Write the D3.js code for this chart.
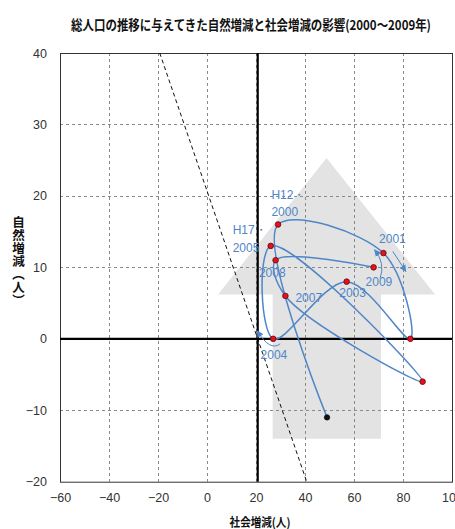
<!DOCTYPE html>
<html>
<head>
<meta charset="utf-8">
<script src="https://cdn.jsdelivr.net/npm/d3@7"></script>
<style>
  html, body { margin: 0; padding: 0; background: #fff; }
  svg { display: block; }
</style>
</head>
<body>
<script>
// Years of the trajectory (1999 is the starting point, drawn in black)
const years = ['1999', '2000', '2001', '2002', '2003', '2004', '2005', '2006', '2007', '2008', '2009'];
// 社会増減 (social change, persons) per year
const socialChange = [49, 29, 72, 83, 57, 27, 26, 88, 32, 28, 68];
// 自然増減 (natural change, persons) per year
const naturalChange = [-11, 16, 12, 0, 8, 0, 13, -6, 6, 11, 10];

const xTicks = [-60, -40, -20, 0, 20, 40, 60, 80, 100];
const yTicks = [-20, -10, 0, 10, 20, 30, 40];
const xGrid = [-40, -20, 0, 20, 40, 60, 80];
const yGrid = [-10, 10, 20, 30];

// The vertical axis crosses the horizontal one at this social-change value;
// the dashed reference line is socialChange + naturalChange = axisCross
const axisCross = 20.7;

// Year labels: text lines and their offsets from the year's point
const labelLines = [
  { year: '2000', lines: ['H12・', '2000'] },
  { year: '2001', lines: ['2001'] },
  { year: '2003', lines: ['2003'] },
  { year: '2004', lines: ['2004'] },
  { year: '2005', lines: ['H17・', '2005'] },
  { year: '2007', lines: ['2007'] },
  { year: '2008', lines: ['2008'] },
  { year: '2009', lines: ['2009'] }
];
const labelOffsets = {
  '2000': [-6.6, -12.3],
  '2001': [-4.3, -14],
  '2003': [-7.4, 11],
  '2004': [-12.6, 16],
  '2005': [-38, 1.7],
  '2007': [10, 2],
  '2008': [-16.7, 12.7],
  '2009': [-8, 15]
};
const lineGap = 17.5;

// Decorative upward arrow in the background (data units)
const bgArrow = { shaftLeft: 26.8, shaftRight: 71.0, bottom: -14, headLeft: 4.5, headRight: 93.1, headBase: 6.2, tipX: 48.8, tipY: 25.3 };

const W = 455, H = 529;
const plot = { left: 60, right: 452, top: 53, bottom: 481.7 };

const x = d3.scaleLinear().domain([-60, 100]).range([plot.left, plot.right]);
const y = d3.scaleLinear().domain([-20, 40]).range([plot.bottom, plot.top]);

const svg = d3.select('body').append('svg').attr('width', W).attr('height', H);

const numFont = '"Liberation Sans Narrow", "Liberation Sans", Arial, sans-serif';
const cjkFont = '"Noto Sans CJK JP", "Noto Sans", sans-serif';
const blue = '#4f86c8';

const defs = svg.append('defs');
defs.append('marker')
  .attr('id', 'head')
  .attr('viewBox', '0 0 10 10')
  .attr('refX', 9).attr('refY', 5)
  .attr('markerWidth', 7).attr('markerHeight', 7)
  .attr('markerUnits', 'userSpaceOnUse')
  .attr('orient', 'auto')
  .append('path').attr('d', 'M0,0 L10,5 L0,10 Z').attr('fill', blue);

// Title (horizontally condensed bold text)
svg.append('text')
  .attr('transform', 'translate(251,24.5) scale(0.85,1)')
  .attr('text-anchor', 'middle')
  .attr('dominant-baseline', 'central')
  .attr('font-family', cjkFont)
  .attr('font-weight', 'bold')
  .attr('font-size', 13.5)
  .attr('fill', '#111')
  .text('総人口の推移に与えてきた自然増減と社会増減の影響(2000～2009年)');

// Background arrow
const a = bgArrow;
const arrowPts = [
  [a.shaftLeft, a.bottom], [a.shaftLeft, a.headBase], [a.headLeft, a.headBase],
  [a.tipX, a.tipY], [a.headRight, a.headBase], [a.shaftRight, a.headBase], [a.shaftRight, a.bottom]
];
svg.append('polygon')
  .attr('points', arrowPts.map(p => [x(p[0]), y(p[1])].join(',')).join(' '))
  .attr('fill', '#e3e3e3');

// Dashed grid
const grid = svg.append('g').attr('stroke', '#8a8a8a').attr('stroke-width', 1).attr('stroke-dasharray', '3,3');
grid.selectAll('line.v').data(xGrid).join('line')
  .attr('x1', d => Math.round(x(d)) + 0.5).attr('x2', d => Math.round(x(d)) + 0.5)
  .attr('y1', plot.top).attr('y2', plot.bottom);
grid.selectAll('line.h').data(yGrid).join('line')
  .attr('y1', d => Math.round(y(d)) + 0.5).attr('y2', d => Math.round(y(d)) + 0.5)
  .attr('x1', plot.left).attr('x2', plot.right);

// Plot border
svg.append('rect')
  .attr('x', plot.left + 0.5).attr('y', plot.top + 0.5)
  .attr('width', plot.right - plot.left).attr('height', plot.bottom - plot.top)
  .attr('fill', 'none').attr('stroke', '#333').attr('stroke-width', 1);

// Dashed reference line: social + natural = axisCross
const clip = defs.append('clipPath').attr('id', 'plotClip');
clip.append('rect').attr('x', plot.left).attr('y', plot.top)
  .attr('width', plot.right - plot.left).attr('height', plot.bottom - plot.top);
svg.append('line')
  .attr('clip-path', 'url(#plotClip)')
  .attr('x1', x(axisCross - 40)).attr('y1', y(40))
  .attr('x2', x(axisCross + 20)).attr('y2', y(-20))
  .attr('stroke', '#111').attr('stroke-width', 1).attr('stroke-dasharray', '4,3');

// Axis lines crossing at (axisCross, 0)
svg.append('line')
  .attr('x1', plot.left).attr('x2', plot.right)
  .attr('y1', y(0)).attr('y2', y(0))
  .attr('stroke', '#000').attr('stroke-width', 2.2);
svg.append('line')
  .attr('x1', x(axisCross)).attr('x2', x(axisCross))
  .attr('y1', plot.top).attr('y2', plot.bottom)
  .attr('stroke', '#000').attr('stroke-width', 2.2);

// Tick labels
const yAxis = svg.append('g')
  .attr('transform', `translate(${plot.left},0)`)
  .call(d3.axisLeft(y).tickValues(yTicks).tickSize(0).tickPadding(13));
const xAxis = svg.append('g')
  .attr('transform', `translate(0,${plot.bottom})`)
  .call(d3.axisBottom(x).tickValues(xTicks).tickSize(0).tickPadding(11));
[yAxis, xAxis].forEach(g => {
  g.select('.domain').remove();
  g.selectAll('text').attr('font-family', numFont).attr('font-size', 12.5).attr('fill', '#333');
});

// Axis titles
svg.append('text')
  .attr('transform', 'translate(260,521.5) scale(0.88,1)')
  .attr('text-anchor', 'middle')
  .attr('dominant-baseline', 'central')
  .attr('font-family', cjkFont)
  .attr('font-weight', 'bold')
  .attr('font-size', 12)
  .attr('fill', '#111')
  .text('社会増減(人)');

svg.append('text')
  .attr('x', 18.5).attr('y', 261.5)
  .attr('text-anchor', 'middle')
  .style('writing-mode', 'vertical-rl')
  .style('text-orientation', 'upright')
  .attr('font-family', cjkFont)
  .attr('font-weight', 'bold')
  .attr('font-size', 12.5)
  .attr('letter-spacing', 0.5)
  .attr('fill', '#111')
  .text('自然増減（人）');

// Trajectory
const pts = years.map((yr, i) => ({ year: yr, px: x(socialChange[i]), py: y(naturalChange[i]) }));
const line = d3.line().x(d => d.px).y(d => d.py).curve(d3.curveCatmullRom.alpha(0.5));
svg.append('path')
  .datum(pts)
  .attr('d', line)
  .attr('fill', 'none')
  .attr('stroke', blue)
  .attr('stroke-width', 1.5);

// Points
svg.selectAll('circle.pt').data(pts).join('circle')
  .attr('cx', d => d.px).attr('cy', d => d.py)
  .attr('r', d => d.year === years[0] ? 2.7 : 2.8)
  .attr('fill', d => d.year === years[0] ? '#111' : '#e8101a')
  .attr('stroke', d => d.year === years[0] ? '#111' : '#5a0a0a')
  .attr('stroke-width', 0.8);

// Year labels
const byYear = Object.fromEntries(pts.map(p => [p.year, p]));
labelLines.forEach(l => {
  const p = byYear[l.year];
  const [dx, dy] = labelOffsets[l.year];
  const n = l.lines.length;
  l.lines.forEach((txt, k) => {
    svg.append('text')
      .attr('x', p.px + dx)
      .attr('y', p.py + dy - (n - 1 - k) * lineGap)
      .attr('dominant-baseline', 'central')
      .attr('font-family', numFont)
      .attr('font-size', 12)
      .attr('fill', blue)
      .text(txt);
  });
});

// Direction arrows next to 2001, 2009 and 2004
const p01 = byYear['2001'], p09 = byYear['2009'], p04 = byYear['2004'];
svg.append('path')
  .attr('d', `M${p01.px + 9.4},${p01.py - 1.7} L${p01.px + 22.4},${p01.py + 18.3}`)
  .attr('fill', 'none').attr('stroke', blue).attr('stroke-width', 1)
  .attr('marker-end', 'url(#head)');
svg.append('path')
  .attr('d', `M${p09.px + 6.5},${p09.py + 11} Q${p09.px + 12},${p09.py - 4} ${p09.px + 1},${p09.py - 17.5}`)
  .attr('fill', 'none').attr('stroke', blue).attr('stroke-width', 1)
  .attr('marker-end', 'url(#head)');
svg.append('path')
  .attr('d', `M${p04.px + 7},${p04.py + 5} Q${p04.px - 3},${p04.py + 13} ${p04.px - 16},${p04.py - 8}`)
  .attr('fill', 'none').attr('stroke', blue).attr('stroke-width', 1)
  .attr('marker-end', 'url(#head)');
</script>
</body>
</html>
